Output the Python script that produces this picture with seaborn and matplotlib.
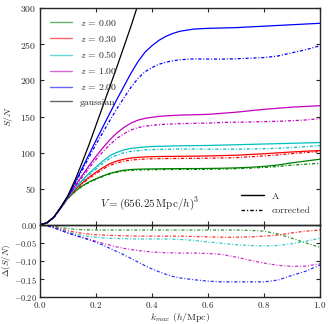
import seaborn as sns
import numpy as np
import matplotlib.pyplot as plt
from matplotlib.lines import Line2D

k_max = [0.0, 0.025, 0.05, 0.075, 0.1, 0.125, 0.15, 0.175, 0.2, 0.225, 0.25,
         0.275, 0.3, 0.325, 0.35, 0.375, 0.4, 0.425, 0.45, 0.475, 0.5,
         0.55, 0.6, 0.65, 0.7, 0.75, 0.8, 0.85, 0.9, 0.95, 1.0]

redshifts = ["0.00", "0.30", "0.50", "1.00", "2.00"]
colors = ["g", "r", "c", "m", "b"]

# S/N for A (solid lines)
sn_z000 = [0, 3, 11, 24, 37, 46.5, 54, 59.5, 64, 68, 71.5, 74, 75.8, 76.7, 77.2, 77.4, 77.6, 77.7, 77.8, 77.9, 78,
           78, 78.2, 78.5, 79, 79.8, 81, 83, 86, 88.5, 91]
sn_z030 = [0, 3, 11, 24, 38.5, 49, 58, 66, 73, 79.5, 85, 88.5, 91, 92.6, 93.5, 94.1, 94.5, 94.7, 94.8, 94.9, 95,
           95.2, 95.5, 96, 96.5, 97.5, 98.5, 99.8, 101, 102, 103]
sn_z050 = [0, 3, 11, 24, 39, 51, 61.5, 71.5, 80, 88.5, 96, 100.5, 104, 106, 107, 108, 108.5, 108.8, 109, 109.3, 109.5,
           109.8, 110, 110.5, 111, 111.5, 112, 112.5, 113, 113.5, 114]
sn_z100 = [0, 3, 11, 24.5, 40, 54, 68, 82, 95, 107, 118, 127.5, 135, 141, 145, 147.5, 149, 150.2, 151, 151.5, 152,
           152.5, 153, 154.5, 156, 158, 160, 161.5, 163, 164, 165]
sn_z200 = [0, 3, 11, 25, 40, 59, 78, 97.5, 117, 136, 155, 174, 192, 210, 226, 239, 248, 255.5, 261, 265, 268,
           271, 272, 272.5, 273, 274, 275, 276, 277, 278, 279]
sn_gauss = [0, 3, 11, 25, 41, 62, 86, 111, 138, 165, 192, 219, 247, 275, 305, 335]

# relative difference corrected vs A
d_z000 = [0, -0.001, -0.004, -0.007, -0.010, -0.012, -0.013, -0.0135, -0.014, -0.014, -0.014,
          -0.014, -0.014, -0.014, -0.014, -0.014, -0.014, -0.014, -0.014, -0.014, -0.014,
          -0.014, -0.014, -0.014, -0.014, -0.015, -0.017, -0.025, -0.037, -0.050, -0.062]
d_z030 = [0, -0.002, -0.006, -0.011, -0.016, -0.020, -0.023, -0.025, -0.027, -0.028, -0.029,
          -0.0295, -0.030, -0.0305, -0.031, -0.031, -0.031, -0.031, -0.031, -0.031, -0.031,
          -0.032, -0.033, -0.034, -0.034, -0.033, -0.031, -0.028, -0.022, -0.017, -0.014]
d_z050 = [0, -0.002, -0.007, -0.013, -0.019, -0.025, -0.029, -0.032, -0.034, -0.036, -0.037,
          -0.0375, -0.038, -0.0385, -0.039, -0.039, -0.039, -0.039, -0.039, -0.0395, -0.040,
          -0.043, -0.047, -0.051, -0.055, -0.057, -0.058, -0.057, -0.052, -0.045, -0.037]
d_z100 = [0, -0.002, -0.008, -0.015, -0.022, -0.028, -0.034, -0.040, -0.045, -0.051, -0.056,
          -0.061, -0.065, -0.068, -0.071, -0.073, -0.075, -0.076, -0.077, -0.0775, -0.078,
          -0.078, -0.079, -0.082, -0.089, -0.098, -0.106, -0.112, -0.115, -0.114, -0.108]
d_z200 = [0, -0.002, -0.008, -0.015, -0.023, -0.029, -0.035, -0.041, -0.048, -0.056, -0.065,
          -0.074, -0.083, -0.093, -0.103, -0.113, -0.122, -0.130, -0.137, -0.143, -0.147,
          -0.152, -0.156, -0.158, -0.158, -0.158, -0.158, -0.153, -0.140, -0.128, -0.111]

sn_all = [sn_z000, sn_z030, sn_z050, sn_z100, sn_z200]
d_all = [d_z000, d_z030, d_z050, d_z100, d_z200]

sns.set_style("ticks")
plt.rcParams["font.family"] = "serif"
plt.rcParams["font.serif"] = ["cmr10", "DejaVu Serif"]
plt.rcParams["mathtext.fontset"] = "cm"
plt.rcParams["axes.formatter.use_mathtext"] = True
plt.rcParams["font.size"] = 7
plt.rcParams["xtick.direction"] = "in"
plt.rcParams["ytick.direction"] = "in"
plt.rcParams["xtick.top"] = True
plt.rcParams["ytick.right"] = True
plt.rcParams["xtick.major.size"] = 3
plt.rcParams["ytick.major.size"] = 3
plt.rcParams["xtick.major.pad"] = 2
plt.rcParams["ytick.major.pad"] = 2.5

fig = plt.figure(figsize=(3.29, 3.24), dpi=100)
ax = fig.add_axes([0.1216, 0.3056, 0.851, 0.6694])
ax2 = fig.add_axes([0.1216, 0.0833, 0.851, 0.2223], sharex=ax)

dd = (2.5, 1.5, 0.8, 1.5)
k = np.array(k_max)
for z, c, sn, d in zip(redshifts, colors, sn_all, d_all):
    sn = np.array(sn, dtype=float)
    d = np.array(d)
    sns.lineplot(x=k, y=sn, color=c, lw=0.9, ax=ax)
    sns.lineplot(x=k, y=sn * (1 + d), color=c, lw=0.9, dashes=dd, ax=ax)
    sns.lineplot(x=k, y=d, color=c, lw=0.9, dashes=dd, alpha=0.8, ax=ax2)

sns.lineplot(x=k[:len(sn_gauss)], y=sn_gauss, color="k", lw=0.9, ax=ax)

ax.set_xlim(0, 1)
ax.set_ylim(0, 300)
ax.set_yticks([50, 100, 150, 200, 250, 300])
ax.tick_params(labelbottom=False, labelsize=7)
ax.set_ylabel("$S/N$", fontsize=7)

ax.text(0.215, 25, r"$V = (656.25\,\mathrm{Mpc}/h)^3$", fontsize=8)

handles = [Line2D([], [], color=c, lw=1, alpha=0.6) for c in colors]
handles.append(Line2D([], [], color="k", lw=1, alpha=0.6))
labels = [f"$z\\,=\\,{z}$" for z in redshifts] + ["gaussian"]
leg1 = ax.legend(handles, labels, loc="upper left", frameon=False, fontsize=7,
                 handlelength=2.3, labelspacing=0.6, borderaxespad=0.6)
ax.add_artist(leg1)
ax.legend([Line2D([], [], color="k", lw=1), Line2D([], [], color="k", lw=1, dashes=dd)],
          ["A", "corrected"], loc="lower right", frameon=False, fontsize=7,
          handlelength=2.3, labelspacing=0.6, borderaxespad=0.6)

ax2.axhline(0, color="k", lw=1)
ax2.set_ylim(-0.2, 0)
ax2.set_yticks([-0.2, -0.15, -0.1, -0.05, 0.0])
ax2.set_yticklabels(["$-0.20$", "$-0.15$", "$-0.10$", "$-0.05$", "$0.00$"])
ax2.set_xticks([0.0, 0.2, 0.4, 0.6, 0.8, 1.0])
ax2.set_xticklabels(["$0.0$", "$0.2$", "$0.4$", "$0.6$", "$0.8$", "$1.0$"])
ax2.tick_params(axis="y", labelsize=6, pad=2)
ax2.tick_params(axis="x", labelsize=6.5)
ax2.set_ylabel(r"$\Delta(S/N)$", fontsize=6.5)
ax2.set_xlabel(r"$k_{max}$ ($h$/Mpc)", fontsize=7, labelpad=1)

for a in (ax, ax2):
    for s in a.spines.values():
        s.set_linewidth(1)
ax.yaxis.set_label_coords(-0.09, 0.5)
ax2.yaxis.set_label_coords(-0.097, 0.5)

fig.savefig("out.png", dpi=100)
